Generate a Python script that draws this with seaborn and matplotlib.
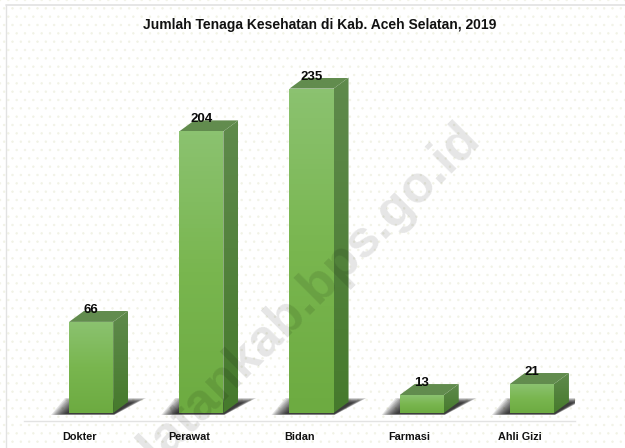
import numpy as np
import pandas as pd
import matplotlib
matplotlib.use("Agg")
import matplotlib.pyplot as plt
from matplotlib.patches import Polygon, Rectangle
from matplotlib.transforms import Affine2D, IdentityTransform
import seaborn as sns

categories = ["Dokter", "Perawat", "Bidan", "Farmasi", "Ahli Gizi"]
values = [66, 204, 235, 13, 21]
title = "Jumlah Tenaga Kesehatan di Kab. Aceh Selatan, 2019"
watermark = "acehselatankab.bps.go.id"

W, H = 625, 448
plt.rcParams["hatch.linewidth"] = 0.5
sns.set_theme(style="white")
plt.rcParams["font.family"] = ["Liberation Sans", "DejaVu Sans"]

fig = plt.figure(figsize=(W / 100, H / 100), dpi=100, facecolor="white")
fig.add_artist(Rectangle((0, 0), 1, 1, transform=fig.transFigure, facecolor="white",
                         edgecolor="#f1f2e6", hatch="..", lw=0, zorder=-5))
fig.add_artist(plt.Line2D([6 / W, 6 / W], [0, 1 - 5 / H], color="#e2e2e2", lw=1, transform=fig.transFigure))
fig.add_artist(plt.Line2D([6 / W, 1], [1 - 5 / H, 1 - 5 / H], color="#e2e2e2", lw=1.2, transform=fig.transFigure))

ax = fig.add_axes([24 / W, 1 - 421 / H, 551 / W, 381 / H])
ax.patch.set_alpha(0)
df = pd.DataFrame({"cat": categories, "val": values})
sns.barplot(data=df, x="cat", y="val", color="#76b24e", width=0.4, ax=ax, zorder=3, saturation=1)
ax.set_ylim(0, 276)
ax.set_xlim(-0.5, 4.5)
ax.set_xlabel("")
ax.set_ylabel("")
ax.set_yticks([])
ax.tick_params(axis="x", length=0, pad=8)
for lab in ax.get_xticklabels():
    lab.set_fontsize(7.8)
    lab.set_fontweight("bold")
    lab.set_color("#111111")
for s in ["top", "right", "left"]:
    ax.spines[s].set_visible(False)
ax.spines["bottom"].set_color("#e3e3e3")
ax.spines["bottom"].set_linewidth(1)

fig.canvas.draw()
dx, dy = 15, 11
ident = IdentityTransform()
grad = np.linspace(0, 1, 64).reshape(-1, 1)


def face(pts, colors, z):
    xs, ys = zip(*pts)
    cmap = matplotlib.colors.LinearSegmentedColormap.from_list("f", colors)
    im = ax.imshow(grad, origin="lower", cmap=cmap, aspect="auto", transform=ident,
                   extent=(min(xs), max(xs), min(ys), max(ys)), zorder=z)
    clip = Polygon(pts, closed=True, transform=ident, fill=False, lw=0)
    ax.add_patch(clip)
    im.set_clip_path(clip)


bars = list(ax.patches)
for bar, v in zip(bars, values):
    bbox = bar.get_window_extent()
    x0, x1 = bbox.x0 + 12, bbox.x1 + 12
    y0, y1 = bbox.y0 + 8, bbox.y1 + 8
    bar.set_visible(False)
    # soft ground shadow: stacked, shrinking parallelograms
    n = 12
    for i in range(n):
        g = i * 1.3
        top = 15 - i * 0.45
        ax.add_patch(Polygon([(x0 - 18 + g, y0 - 2 + i * 0.1), (x1 + 1, y0 - 2 + i * 0.1),
                              (x1 + 33 - g, y0 + top), (x0 - 4 + g, y0 + top)],
                             closed=True, transform=ident, facecolor="black", alpha=0.11,
                             lw=0, zorder=2))
    # faces
    face([(x1, y0), (x1 + dx, y0 + dy), (x1 + dx, y1 + dy), (x1, y1)], ["#467a2c", "#5f8a4c"], 4)
    face([(x0, y1), (x1, y1), (x1 + dx, y1 + dy), (x0 + dx, y1 + dy)], ["#628c4e", "#628c4e"], 4)
    face([(x0, y0), (x1, y0), (x1, y1), (x0, y1)], ["#6dab41", "#79b64f", "#8bc270"], 5)
    ax.text((x0 + x1) / 2, y1 + 6, str(v), transform=ident, ha="center", va="bottom",
            fontsize=9.5, fontweight="bold", color="#0a0a0a", zorder=8)

fig.text(320 / W, 1 - 25 / H, title, ha="center", va="center", fontsize=10,
         fontweight="bold", color="#111111")
fig.text(482 / W, 1 - 142 / H, watermark, ha="right", va="baseline", rotation=45,
         rotation_mode="anchor", fontsize=37.5, fontweight="bold", color="black", alpha=0.1, zorder=10)

ax.set_xlim(-0.5, 4.5)
ax.set_ylim(0, 276)
fig.savefig("out.png", dpi=100)
